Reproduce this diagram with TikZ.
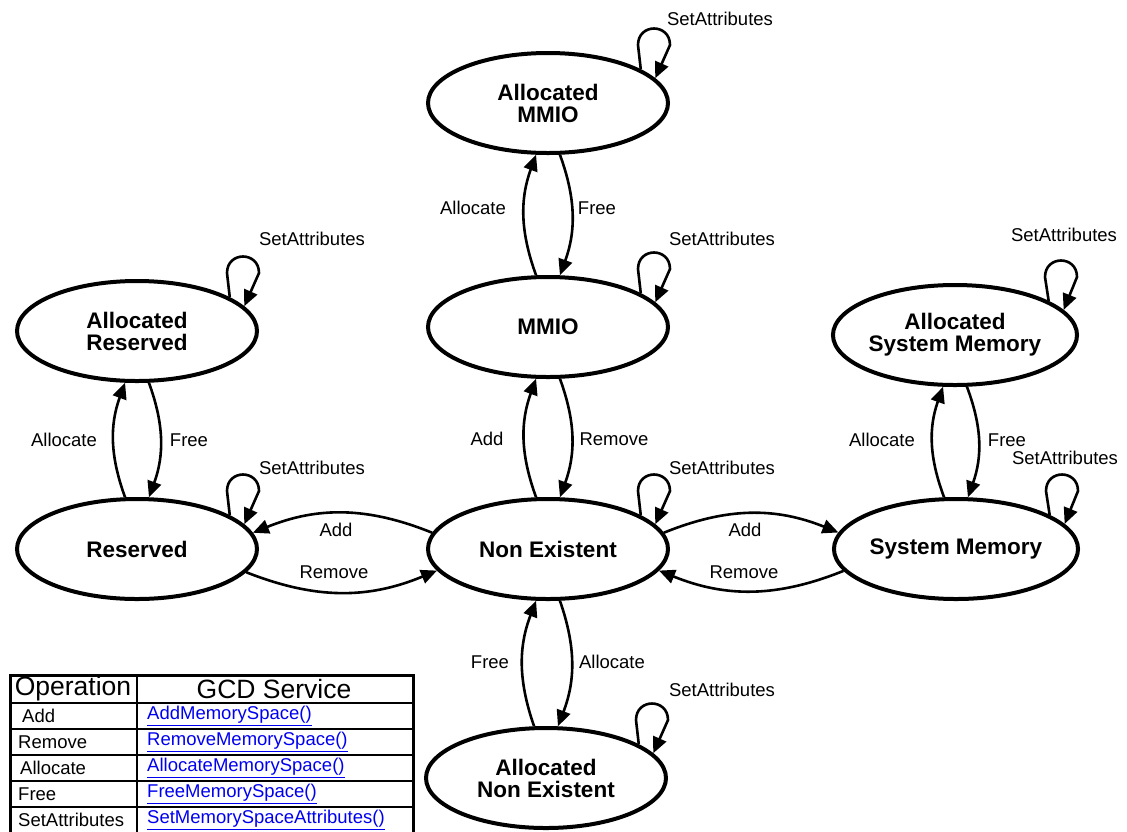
\documentclass[tikz,border=0pt]{standalone}
\usepackage{fontspec}
\setmainfont{Liberation Sans}
\usetikzlibrary{arrows.meta,shapes.geometric,calc}
\definecolor{linkblue}{RGB}{0,0,240}
\tikzset{
  gstate/.style={ellipse,draw,line width=4pt,minimum width=240pt,minimum height=100pt,
    inner sep=0pt,align=center,font=\fontsize{22.5}{22}\selectfont\bfseries},
  arr/.style={line width=2.6pt,-{Triangle[length=16pt,width=14pt]}},
  lbl/.style={font=\fontsize{18.5}{20}\selectfont,inner sep=0pt},
  thead/.style={font=\fontsize{26.5}{28}\selectfont,inner sep=0pt},
  tcell/.style={font=\fontsize{18.5}{20}\selectfont,inner sep=0pt,anchor=west},
  tlink/.style={tcell,text=linkblue},
  tborder/.style={line width=3pt},
  tline/.style={line width=1.5pt}
}
\newcommand\mkloop[1]{\draw[arr] (#1.20) -- ($(#1)+(90,-58)$) .. controls ($(#1)+(90,-80)$) and ($(#1)+(122,-80)$) .. ($(#1)+(122,-58)$) -- (#1.13);}
\begin{document}
\begin{tikzpicture}[x=1pt,y=-1pt]
\useasboundingbox (0,0) rectangle (1127,831);
% states
\node[gstate] (AMMIO) at (548,103) {Allocated\\MMIO};
\node[gstate] (MMIO) at (548,327) {MMIO};
\node[gstate] (NE) at (548,549) {Non Existent};
\node[gstate] (ANE) at (546,778) {Allocated\\Non Existent};
\node[gstate] (AR) at (137,331) {Allocated\\Reserved};
\node[gstate] (R) at (137,549) {Reserved};
\node[gstate] (ASM) at (955,335) {Allocated\\System Memory};
\node[gstate] (SM) at (956,549) {System Memory};
% vertical pairs
\draw[arr] (MMIO.103) to[bend left=20] (AMMIO.257);
\draw[arr] (AMMIO.283) to[bend left=20] (MMIO.77);
\draw[arr] (NE.103) to[bend left=20] (MMIO.257);
\draw[arr] (MMIO.283) to[bend left=20] (NE.77);
\draw[arr] (ANE.103) to[bend left=20] (NE.257);
\draw[arr] (NE.283) to[bend left=20] (ANE.77);
\draw[arr] (R.103) to[bend left=20] (AR.257);
\draw[arr] (AR.283) to[bend left=20] (R.77);
\draw[arr] (SM.103) to[bend left=20] (ASM.257);
\draw[arr] (ASM.283) to[bend left=20] (SM.77);
% horizontal pairs
\draw[arr] (NE.172) to[bend right=22] (R.8);
\draw[arr] (R.348) to[bend right=22] (NE.191);
\draw[arr] (NE.8) to[bend left=22] (SM.172);
\draw[arr] (SM.191) to[bend left=22] (NE.349);
% self loops
\mkloop{AMMIO}
\mkloop{MMIO}
\mkloop{NE}
\mkloop{ANE}
\mkloop{AR}
\mkloop{R}
\mkloop{ASM}
\mkloop{SM}
% edge labels
\node[lbl] (l1) at (473,208) {Allocate};
\node[lbl] (l2) at (597,208) {Free};
\node[lbl] (l3) at (487,439) {Add};
\node[lbl] (l4) at (614,439) {Remove};
\node[lbl] (l5) at (490,662) {Free};
\node[lbl] (l6) at (612,662) {Allocate};
\node[lbl] (l7) at (64,440) {Allocate};
\node[lbl] (l8) at (189,440) {Free};
\node[lbl] (l9) at (882,440) {Allocate};
\node[lbl] (l10) at (1007,440) {Free};
\node[lbl] (l11) at (336,530) {Add};
\node[lbl] (l12) at (334,572) {Remove};
\node[lbl] (l13) at (745,530) {Add};
\node[lbl] (l14) at (744,572) {Remove};
% loop labels
\node[lbl] (s1) at (720,19) {SetAttributes};
\node[lbl] (s2) at (722,239) {SetAttributes};
\node[lbl] (s3) at (722,468) {SetAttributes};
\node[lbl] (s4) at (312,468) {SetAttributes};
\node[lbl] (s5) at (312,239) {SetAttributes};
\node[lbl] (s6) at (722,690) {SetAttributes};
\node[lbl] (s7) at (1064,235) {SetAttributes};
\node[lbl] (s8) at (1065,458) {SetAttributes};
% table
\draw[tborder] (10,833) -- (10,675) -- (413,675) -- (413,833);
\draw[tline] (137,675) -- (137,833);
\draw[line width=2pt] (10,703) -- (413,703);
\foreach \yy in {729,755,781,807} \draw[tline] (10,\yy) -- (413,\yy);
\node[thead] (h1) at (73,689) {Operation};
\node[thead] (h2) at (274,689) {GCD Service};
\node[tcell] (c1) at (22,716) {Add};
\node[tcell] (c2) at (18,742) {Remove};
\node[tcell] (c3) at (20,768) {Allocate};
\node[tcell] (c4) at (18,794) {Free};
\node[tcell] (c5) at (18,820) {SetAttributes};
\node[tlink] (d1) at (147,716) {\underline{AddMemorySpace()}};
\node[tlink] (d2) at (147,742) {\underline{RemoveMemorySpace()}};
\node[tlink] (d3) at (147,768) {\underline{AllocateMemorySpace()}};
\node[tlink] (d4) at (147,794) {\underline{FreeMemorySpace()}};
\node[tlink] (d5) at (147,820) {\underline{SetMemorySpaceAttributes()}};
\end{tikzpicture}
\end{document}
